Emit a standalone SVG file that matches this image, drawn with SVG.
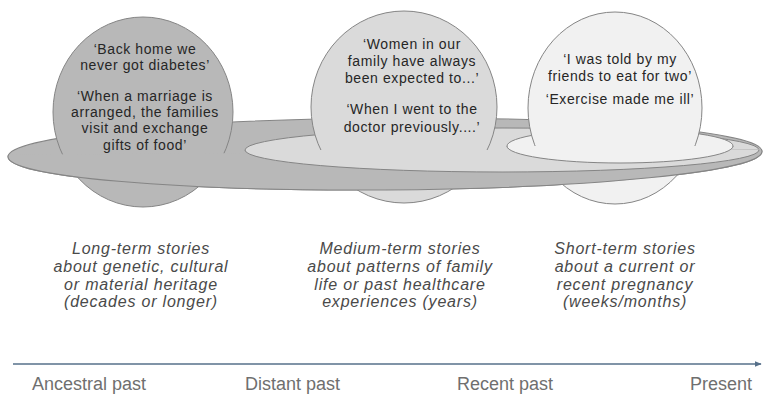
<svg xmlns="http://www.w3.org/2000/svg" width="763" height="397" viewBox="0 0 763 397">
<style>
.ring{stroke:#858585;stroke-width:1}
.q{font-family:"Liberation Sans",Arial,sans-serif;font-size:14px;fill:#262626;text-anchor:middle;letter-spacing:.6px}
.c{font-family:"Liberation Sans",Arial,sans-serif;font-style:italic;font-size:16px;fill:#4a4a4a;text-anchor:middle;letter-spacing:.8px}
.ax{font-family:"Liberation Sans",Arial,sans-serif;font-size:18px;fill:#6f6f6f}
</style>
<defs>
<clipPath id="cb" clipPathUnits="userSpaceOnUse"><rect x="0" y="152" width="763" height="60"/></clipPath>
<clipPath id="cm" clipPathUnits="userSpaceOnUse"><rect x="0" y="150" width="763" height="60"/></clipPath>
<clipPath id="cr" clipPathUnits="userSpaceOnUse"><rect x="0" y="146" width="763" height="60"/></clipPath>
<marker id="ah" viewBox="0 0 10 10" refX="9" refY="5" markerWidth="7" markerHeight="7" orient="auto" markerUnits="userSpaceOnUse">
<path d="M0,1 L10,5 L0,9 z" fill="#56708a"/>
</marker>
</defs>
<rect width="763" height="397" fill="#ffffff"/>

<g id="rings-back">
<ellipse class="ring" cx="385" cy="154" rx="377" ry="36" fill="#b8b8b8" transform="rotate(-0.4 385 154)"/>
<ellipse class="ring" cx="502" cy="150" rx="257" ry="22" fill="#dadada"/>
<ellipse class="ring" cx="620" cy="146" rx="113" ry="17" fill="#f1f1f1"/>
</g>

<g id="long-term">
<ellipse cx="143" cy="112" rx="90" ry="95" fill="#b8b8b8" stroke="#858585"/>
</g>
<g id="medium-term">
<ellipse cx="404" cy="107" rx="93" ry="96" fill="#dadada" stroke="#858585"/>
</g>
<g id="short-term">
<ellipse cx="615" cy="108" rx="87" ry="96" fill="#f1f1f1" stroke="#858585"/>
</g>

<g id="rings-front">
<ellipse class="ring" cx="385" cy="154" rx="377" ry="36" fill="#b8b8b8" transform="rotate(-0.4 385 154)" clip-path="url(#cb)"/>
<ellipse class="ring" cx="502" cy="150" rx="257" ry="22" fill="#dadada" clip-path="url(#cm)"/>
<ellipse class="ring" cx="620" cy="146" rx="113" ry="17" fill="#f1f1f1" clip-path="url(#cr)"/>
</g>

<g id="quotes-long">
<text class="q" x="145" y="54">‘Back home we</text>
<text class="q" x="145" y="70">never got diabetes’</text>
<text class="q" x="145" y="101">‘When a marriage is</text>
<text class="q" x="145" y="117">arranged, the families</text>
<text class="q" x="145" y="133">visit and exchange</text>
<text class="q" x="145" y="150">gifts of food’</text>
</g>
<g id="quotes-medium">
<text class="q" x="412" y="49">‘Women in our</text>
<text class="q" x="412" y="66">family have always</text>
<text class="q" x="412" y="83">been expected to...’</text>
<text class="q" x="412" y="114">‘When I went to the</text>
<text class="q" x="412" y="132">doctor previously....’</text>
</g>
<g id="quotes-short">
<text class="q" x="620" y="64">‘I was told by my</text>
<text class="q" x="620" y="81">friends to eat for two’</text>
<text class="q" x="620" y="104">‘Exercise made me ill’</text>
</g>

<g id="caption-long">
<text class="c" x="141" y="254">Long-term stories</text>
<text class="c" x="141" y="272">about genetic, cultural</text>
<text class="c" x="141" y="290">or material heritage</text>
<text class="c" x="141" y="307">(decades or longer)</text>
</g>
<g id="caption-medium">
<text class="c" x="400" y="254">Medium-term stories</text>
<text class="c" x="400" y="272">about patterns of family</text>
<text class="c" x="400" y="290">life or past healthcare</text>
<text class="c" x="400" y="307">experiences (years)</text>
</g>
<g id="caption-short">
<text class="c" x="625" y="254">Short-term stories</text>
<text class="c" x="625" y="272">about a current or</text>
<text class="c" x="625" y="290">recent pregnancy</text>
<text class="c" x="625" y="307">(weeks/months)</text>
</g>

<g id="connectors">
<line x1="13" y1="364" x2="761" y2="364" stroke="#56708a" stroke-width="1.6" marker-end="url(#ah)"/>
</g>

<g id="axis-labels">
<text class="ax" x="32" y="390">Ancestral past</text>
<text class="ax" x="245" y="390">Distant past</text>
<text class="ax" x="457" y="390">Recent past</text>
<text class="ax" x="752" y="390" text-anchor="end">Present</text>
</g>
</svg>
